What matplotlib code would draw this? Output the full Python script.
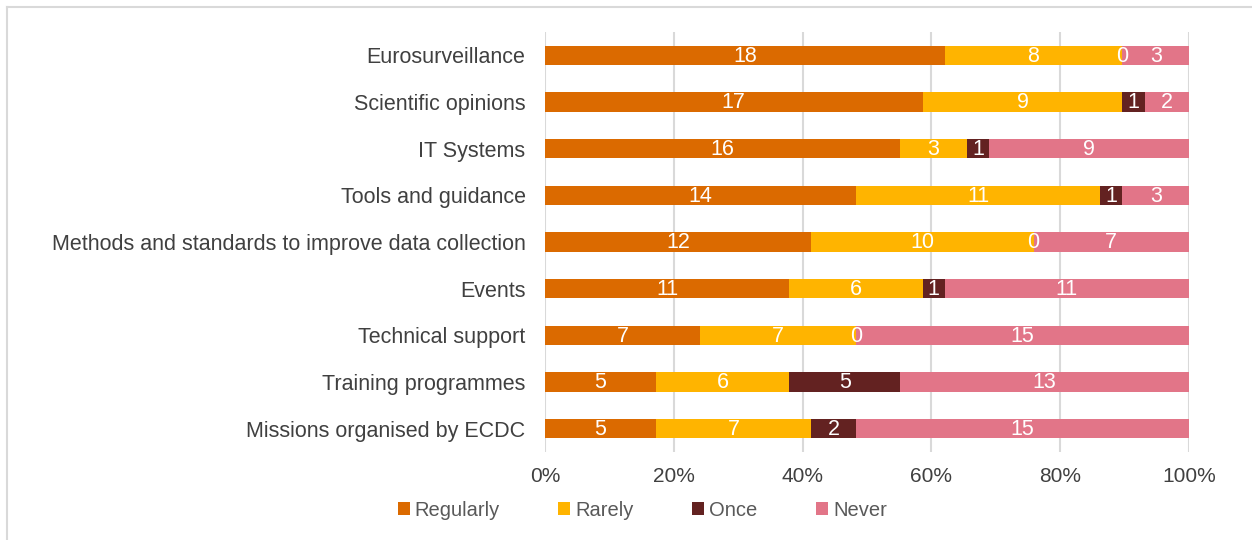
import matplotlib
matplotlib.use("Agg")
import matplotlib.pyplot as plt
from matplotlib.lines import Line2D
from matplotlib.patches import Patch
import numpy as np

plt.rcParams['font.family'] = ['Liberation Sans', 'DejaVu Sans']

categories = ["Eurosurveillance", "Scientific opinions", "IT Systems", "Tools and guidance",
              "Methods and standards to improve data collection", "Events", "Technical support",
              "Training programmes", "Missions organised by ECDC"]
series_names = ["Regularly", "Rarely", "Once", "Never"]
regularly = [18, 17, 16, 14, 12, 11, 7, 5, 5]
rarely = [8, 9, 3, 11, 10, 6, 7, 6, 7]
once = [0, 1, 1, 1, 0, 1, 0, 5, 2]
never = [3, 2, 9, 3, 7, 11, 15, 13, 15]
tick_labels = ["0%", "20%", "40%", "60%", "80%", "100%"]

colors = ["#DB6A00", "#FFB400", "#632221", "#E27588"]

data = np.array([regularly, rarely, once, never], dtype=float)
totals = data.sum(axis=0)
shares = data / totals

fig = plt.figure(figsize=(12.52, 5.40), dpi=100)
ax = fig.add_axes([545/1252, 1-452/540, (1189-545)/1252, (452-32)/540])

y = np.arange(len(categories))
left = np.zeros(len(categories))
for i, name in enumerate(series_names):
    ax.barh(y, shares[i], left=left, height=0.41, color=colors[i], label=name, zorder=3)
    for j in range(len(categories)):
        ax.text(left[j] + shares[i][j] / 2, y[j] + 0.02, f"{int(data[i][j])}", ha='center', va='center',
                color='white', fontsize=15.5, zorder=4)
    left += shares[i]

ax.set_ylim(len(categories) - 0.5, -0.5)
ax.set_xlim(0, 1)
ax.set_yticks(y)
ax.set_yticklabels(categories, fontsize=15.5, color='#404040')
ax.set_xticks(np.linspace(0, 1, 6))
ax.set_xticklabels(tick_labels, fontsize=15, color='#404040')
ax.tick_params(axis='both', length=0)
ax.tick_params(axis='y', pad=14)
ax.tick_params(axis='x', pad=11)
ax.grid(axis='x', color='#D9D9D9', linewidth=1.5, zorder=0)
for s in ax.spines.values():
    s.set_visible(False)

handles = [Patch(facecolor=c, edgecolor='none') for c in colors]
fig.legend(handles, series_names, loc='center', bbox_to_anchor=(0.513, 1-510/540), ncol=4,
           frameon=False, fontsize=14.5, handlelength=0.6, handleheight=0.6, handletextpad=0.25,
           columnspacing=2.9, labelcolor='#595959')

fig.add_artist(Line2D([7/1252, 7/1252], [0, 1-7/540], color='#D9D9D9', lw=1.5))
fig.add_artist(Line2D([7/1252, 1], [1-7/540, 1-7/540], color='#D9D9D9', lw=1.5))

fig.savefig("out.png", dpi=100, facecolor='white')
